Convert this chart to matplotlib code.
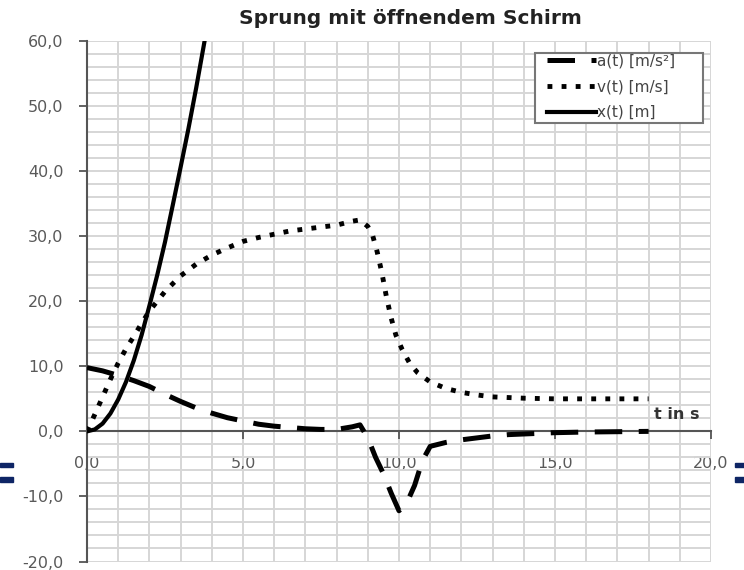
import matplotlib
matplotlib.use("Agg")
import matplotlib.pyplot as plt
from matplotlib.ticker import MultipleLocator, FuncFormatter
from matplotlib.patches import Rectangle

plt.rcParams['font.family'] = ['DejaVu Sans']

# Zeitreihen des Sprungs mit öffnendem Schirm
t_a = [0, 0.5, 1, 1.5, 2, 2.5, 3, 3.5, 4, 4.5, 5, 5.5, 6, 6.5, 7, 7.5, 8, 8.5, 8.75,
       9, 9.25, 9.5, 9.75, 10, 10.25, 10.5, 10.75, 11, 11.5, 12, 12.5, 13, 13.5, 14,
       15, 16, 17, 18]
a_vals = [9.8, 9.3, 8.6, 7.8, 6.9, 5.7, 4.6, 3.6, 2.8, 2.1, 1.6, 1.1, 0.8, 0.6, 0.4,
          0.3, 0.3, 0.7, 1.0, -1.0, -4.0, -6.5, -9.5, -12.2, -11.0, -8.3, -4.5, -2.3,
          -1.7, -1.3, -1.0, -0.7, -0.5, -0.4, -0.2, -0.1, -0.05, 0.0]

t_v = [0, 0.25, 0.5, 0.75, 1, 1.25, 1.5, 1.75, 2, 2.5, 3, 3.5, 4, 4.5, 5, 5.5, 6,
       6.5, 7, 7.5, 8, 8.5, 8.75, 9, 9.15, 9.3, 9.45, 9.6, 9.75, 9.9, 10.1, 10.35,
       10.6, 11, 11.5, 12, 12.5, 13, 13.5, 14, 15, 16, 17, 18]
v_vals = [0, 2.6, 5.3, 8.0, 10.5, 12.7, 14.6, 16.6, 18.5, 21.5, 23.9, 25.7, 27.1,
          28.2, 29.2, 29.8, 30.3, 30.8, 31.1, 31.4, 31.7, 32.3, 32.5, 31.5, 30.2,
          27.6, 24.4, 20.6, 17.4, 14.8, 12.6, 10.4, 9.0, 7.6, 6.6, 6.0, 5.6, 5.3,
          5.2, 5.1, 5.0, 5.0, 5.0, 5.0]

t_x = [0, 0.25, 0.5, 0.75, 1, 1.25, 1.5, 1.75, 2, 2.25, 2.5, 2.75, 3, 3.25, 3.5,
       3.75, 4]
x_vals = [0, 0.3, 1.2, 2.75, 4.9, 7.6, 10.9, 14.8, 19.3, 24.0, 29.1, 34.8, 40.6,
          46.5, 52.8, 59.5, 66.3]

fig = plt.figure(figsize=(7.44, 5.70), dpi=100)
ax = fig.add_axes([87 / 744, (570 - 561.5) / 570, 624 / 744, (561.5 - 41) / 570])

ax.plot(t_a, a_vals, color='black', lw=3.6, linestyle=(0, (5.5, 3.3)),
        dash_capstyle='butt', label='a(t) [m/s²]', zorder=3)
ax.plot(t_v, v_vals, color='black', lw=3.5, linestyle=(0, (1, 1.9)),
        dash_capstyle='butt', label='v(t) [m/s]', zorder=3)
ax.plot(t_x, x_vals, color='black', lw=3.0, linestyle='-',
        label='x(t) [m]', zorder=3)

ax.set_xlim(0, 20)
ax.set_ylim(-20, 60)

fmt = FuncFormatter(lambda v, p: f"{v:.1f}".replace('.', ','))
ax.xaxis.set_major_locator(MultipleLocator(5))
ax.xaxis.set_minor_locator(MultipleLocator(1))
ax.yaxis.set_major_locator(MultipleLocator(10))
ax.yaxis.set_minor_locator(MultipleLocator(2))
ax.xaxis.set_major_formatter(fmt)
ax.yaxis.set_major_formatter(fmt)

ax.grid(which='both', color='#d6d6d6', lw=1.4, zorder=0)
ax.set_axisbelow(True)

for s in ('top', 'right'):
    ax.spines[s].set_visible(False)
ax.spines['bottom'].set_position(('data', 0))
for s in ('left', 'bottom'):
    ax.spines[s].set_color('#555555')
    ax.spines[s].set_linewidth(1.5)

ax.tick_params(which='major', direction='out', length=6, width=1.3, color='#555555',
               labelsize=11.5, labelcolor='#595959')
ax.tick_params(which='minor', length=0)
ax.tick_params(axis='x', pad=12)
ax.tick_params(axis='y', pad=11)

ax.text(18.9, 2.6, 't in s', ha='center', va='center', fontsize=11.5,
        fontweight='bold', color='#333333')

# Legendenrahmen mit breiterem Innenrand links und rechts
legend_box = Rectangle((0.718, 0.8425), 0.269, 0.1345, transform=ax.transAxes,
                       facecolor='white', edgecolor='#777777', lw=1.5, zorder=4)
ax.add_patch(legend_box)
leg = ax.legend(loc='upper left', bbox_to_anchor=(0.737, 0.976),
                fontsize=11, frameon=False, handlelength=3.2,
                handletextpad=0.05, labelspacing=0.7, borderpad=0.0,
                borderaxespad=0.0)
leg.set_zorder(5)
for txt in leg.get_texts():
    txt.set_color('#444444')

fig.text(410 / 744, 1 - 19 / 570, 'Sprung mit öffnendem Schirm', ha='center',
         va='center', fontsize=14.5, fontweight='bold', color='#222222')

# seitliche Markierungen
navy = '#0e2565'
for x0 in (0, 735):
    for y_top, h in ((462.7, 4.0), (477.0, 5.0)):
        fig.patches.append(Rectangle((x0 / 744, 1 - (y_top + h) / 570), 13 / 744, h / 570,
                                     transform=fig.transFigure, color=navy, zorder=5))

fig.savefig('out.png', dpi=100)
